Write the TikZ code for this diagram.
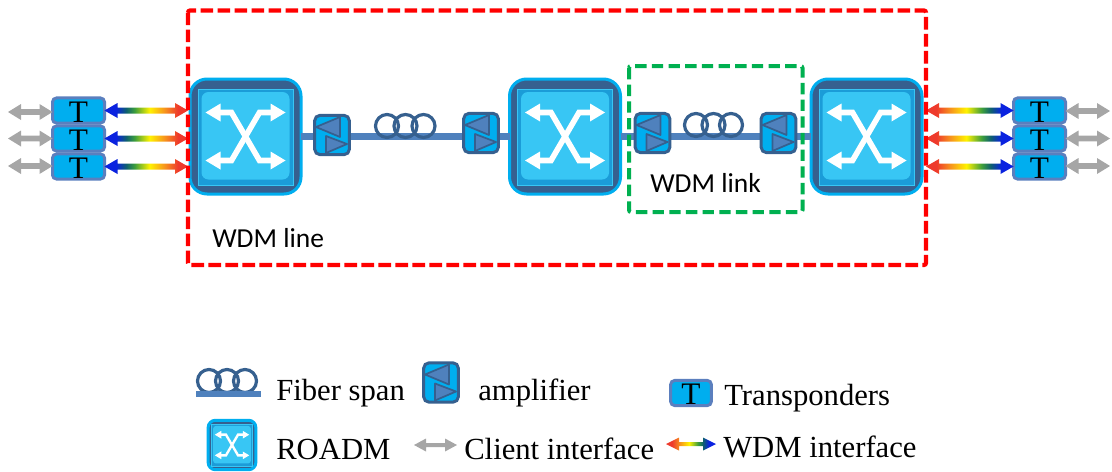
\documentclass[tikz,border=0pt]{standalone}
\usepackage{fontspec}
\setmainfont{Liberation Serif}
\newfontfamily\labelfont{Carlito}
\usetikzlibrary{calc}
\definecolor{roadmCyan}{HTML}{00AEEF}
\definecolor{roadmDark}{HTML}{36608F}
\definecolor{roadmMid}{HTML}{1B9CD8}
\definecolor{roadmLight}{HTML}{38C6F4}
\definecolor{fiberBlue}{HTML}{4F81BD}
\definecolor{boxEdge}{HTML}{5B7FBE}
\definecolor{arrowGray}{HTML}{A6A6A6}
\definecolor{lineRed}{HTML}{FF0000}
\definecolor{lineGreen}{HTML}{00B050}
\definecolor{wBlue}{HTML}{0A22E0}
\definecolor{wTeal}{HTML}{0E5F6F}
\definecolor{wGreen}{HTML}{3C9E3C}
\definecolor{wYellow}{HTML}{FFF200}
\definecolor{wOrange}{HTML}{F7941D}
\definecolor{wRed}{HTML}{EE3A2C}
\pgfdeclarehorizontalshading{wdmBR}{100bp}{color(0bp)=(wBlue);color(32bp)=(wBlue);color(38bp)=(wTeal);color(43bp)=(wGreen);color(52bp)=(wYellow);color(61bp)=(wOrange);color(69bp)=(wRed);color(100bp)=(wRed)}
\pgfdeclarehorizontalshading{wdmRB}{100bp}{color(0bp)=(wRed);color(31bp)=(wRed);color(39bp)=(wOrange);color(48bp)=(wYellow);color(57bp)=(wGreen);color(62bp)=(wTeal);color(68bp)=(wBlue);color(100bp)=(wBlue)}
\tikzset{
  fiberline/.style={draw=fiberBlue,line width=4.8pt},
  tbox/.style={rectangle,draw=boxEdge,fill=roadmCyan,line width=2.25pt,rounded corners=3pt,inner sep=0pt,outer sep=0pt,minimum width=39pt,minimum height=18.8pt,text height=17.5pt,text depth=0pt,font=\fontsize{23.5}{24}\selectfont},
  coilring/.style={circle,draw=roadmDark,line width=2.4pt,inner sep=0pt,outer sep=0pt,minimum size=17.25pt},
  redframe/.style={draw=lineRed,line width=3.1pt,dash pattern=on 9.5pt off 3.25pt,rounded corners=1.5pt},
  greenframe/.style={draw=lineGreen,line width=3pt,dash pattern=on 8.5pt off 4pt,rounded corners=1.5pt},
  legendtext/.style={anchor=base west,inner sep=0pt,font=\fontsize{23}{25}\selectfont},
  linelabel/.style={anchor=base west,inner sep=0pt,font=\labelfont\fontsize{20.6}{22}\selectfont},
  grayarrow/.style={fill=arrowGray}
}
% double arrow polygon: style, from, to, head length, head half width, shaft half width
\newcommand\dblarrow[6]{%
  \path[#1] (#2) -- ($(#2)+(#4,-#5)$) -- ($(#2)+(#4,-#6)$) -- ($(#3)+(-#4,-#6)$) -- ($(#3)+(-#4,-#5)$) -- (#3)
    -- ($(#3)+(-#4,#5)$) -- ($(#3)+(-#4,#6)$) -- ($(#2)+(#4,#6)$) -- ($(#2)+(#4,#5)$) -- cycle;}
% ROADM: name, x, y, scale
\newcommand\roadm[4]{%
  \pgfmathsetmacro\rw{111*.75*#4}\pgfmathsetmacro\rh{115*.75*#4}%
  \pgfmathsetmacro\rr{17*.75*#4}%
  \pgfmathsetmacro\ri{7*.75*#4}\pgfmathsetmacro\rx{5.6*.75*#4}\pgfmathsetmacro\rt{.9*.75*#4}%
  \node[name=#1,rectangle,inner sep=0pt,outer sep=0pt,draw=roadmCyan,fill=roadmDark,line width=2.25pt,rounded corners=\rr pt,minimum width=\rw pt,minimum height=\rh pt] at (#2,#3) {};
  \begin{scope}[shift={(#2,#3)},scale=#4]
    \filldraw[fill=roadmMid,draw=roadmLight,line width=\rt pt] (-47.5,-47.5) rectangle (47.5,49);
    \fill[roadmLight,rounded corners=\ri pt] (-44,-44.5) rectangle (44,43);
    \draw[white,line width=\rx pt,line join=miter] (-28,-24) -- (-14,-24) -- (14,24) -- (28,24);
    \draw[white,line width=\rx pt,line join=miter] (-28,24) -- (-14,24) -- (14,-24) -- (28,-24);
    \fill[white] (-40,-24) -- (-25,-33) -- (-25,-15) -- cycle;
    \fill[white] (40,-24) -- (25,-33) -- (25,-15) -- cycle;
    \fill[white] (-40,24) -- (-25,33) -- (-25,15) -- cycle;
    \fill[white] (40,24) -- (25,33) -- (25,15) -- cycle;
  \end{scope}}
% amplifier: name, x, y
\newcommand\amp[3]{%
  \node[name=#1,rectangle,inner sep=0pt,outer sep=0pt,draw=roadmDark,fill=roadmCyan,line width=2.25pt,rounded corners=4pt,minimum width=26pt,minimum height=29.5pt] at (#2,#3) {};
  \begin{scope}[shift={(#2,#3)}]
    \filldraw[fill=fiberBlue,draw=roadmDark,line width=1.3pt,line join=round] (-16,-8) -- (8,-18) -- (8,2) -- cycle;
    \filldraw[fill=fiberBlue,draw=roadmDark,line width=1.3pt,line join=round] (-6,1) -- (-6,18) -- (15,9) -- cycle;
  \end{scope}}
\begin{document}
\begin{tikzpicture}[x=0.75pt,y=-0.75pt]
\useasboundingbox (0,0) rectangle (1112,471);
\roadm{ra}{245.5}{136.5}{1}
\roadm{rb}{565}{136.5}{1}
\roadm{rc}{866.5}{136.5}{1}
\draw[fiberline] (ra.east) -- (rb.west);
\draw[fiberline] (rb.east) -- (rc.west);
\amp{aa}{332}{135}
\amp{ab}{481}{133}
\amp{ac}{652.5}{133}
\amp{ad}{778.5}{133}
\foreach \n/\x/\y in {ca/387/126,cb/405.5/126,cc/423.5/126,cd/696/125,ce/713.5/125,cf/731/125}
  \node[coilring,name=\n] at (\x,\y) {};
% transponders
\node[tbox,name=tla] at (78.5,110.5) {T};
\node[tbox,name=tlb] at (78.5,138.5) {T};
\node[tbox,name=tlc] at (78.5,166.5) {T};
\node[tbox,name=tra] at (1039.5,110.5) {T};
\node[tbox,name=trb] at (1039.5,138.5) {T};
\node[tbox,name=trc] at (1039.5,166.5) {T};
% client interfaces
\coordinate (gla) at (8,112);
\coordinate (glb) at (8,138.5);
\coordinate (glc) at (8,166);
\coordinate (gra) at (1110,111);
\coordinate (grb) at (1110,138.5);
\coordinate (grc) at (1110,166);
\dblarrow{grayarrow}{gla}{tla.west |- gla}{13}{8}{2.8}
\dblarrow{grayarrow}{glb}{tlb.west |- glb}{13}{8}{2.8}
\dblarrow{grayarrow}{glc}{tlc.west |- glc}{13}{8}{2.8}
\dblarrow{grayarrow}{tra.east |- gra}{gra}{13}{8}{2.8}
\dblarrow{grayarrow}{trb.east |- grb}{grb}{13}{8}{2.8}
\dblarrow{grayarrow}{trc.east |- grc}{grc}{13}{8}{2.8}
% WDM interfaces
\coordinate (ela) at (188,110.5);
\coordinate (elb) at (188,138.5);
\coordinate (elc) at (188,166.5);
\coordinate (era) at (926,110.5);
\coordinate (erb) at (926,138.5);
\coordinate (erc) at (926,166.5);
\dblarrow{shade,shading=wdmBR}{tla.east}{ela}{13}{7.5}{3}
\dblarrow{shade,shading=wdmBR}{tlb.east}{elb}{13}{7.5}{3}
\dblarrow{shade,shading=wdmBR}{tlc.east}{elc}{13}{7.5}{3}
\dblarrow{shade,shading=wdmRB}{era}{tra.west}{13}{7.5}{3}
\dblarrow{shade,shading=wdmRB}{erb}{trb.west}{13}{7.5}{3}
\dblarrow{shade,shading=wdmRB}{erc}{trc.west}{13}{7.5}{3}
% frames
\node[name=wline,linelabel] at (212,247) {WDM line};
\node[name=wlink,linelabel] at (650,192.5) {WDM link};
\draw[redframe] (188,10.5) rectangle (926,265);
\draw[greenframe] (629,66) rectangle (802.5,212);
% legend
\foreach \n/\x in {la/209,lb/227,lc/245}
  \node[coilring,name=\n] at (\x,381) {};
\coordinate (lfa) at (196,394);
\coordinate (lfb) at (261,394);
\draw[fiberline] (lfa) -- (lfb);
\node[legendtext,name=tfiber] at (276,400) {Fiber span};
\amp{lamp}{441}{382.5}
\node[legendtext,name=tamp] at (478,400) {amplifier};
\node[tbox,name=ltr,minimum width=30.5pt] at (691,393) {T};
\node[legendtext,name=ttr] at (724,405) {Transponders};
\roadm{lroadm}{232}{445}{0.43}
\node[legendtext,name=troadm] at (276,459) {ROADM};
\coordinate (lga) at (414,445);
\coordinate (lgb) at (457,445);
\dblarrow{grayarrow}{lga}{lgb}{12}{6.5}{2}
\node[legendtext,name=tclient] at (464,459) {Client interface};
\coordinate (lwa) at (666,444);
\coordinate (lwb) at (716,444);
\dblarrow{shade,shading=wdmRB}{lwa}{lwb}{13}{6.5}{2}
\node[legendtext,name=twdm] at (723,457) {WDM interface};
\end{tikzpicture}
\end{document}
